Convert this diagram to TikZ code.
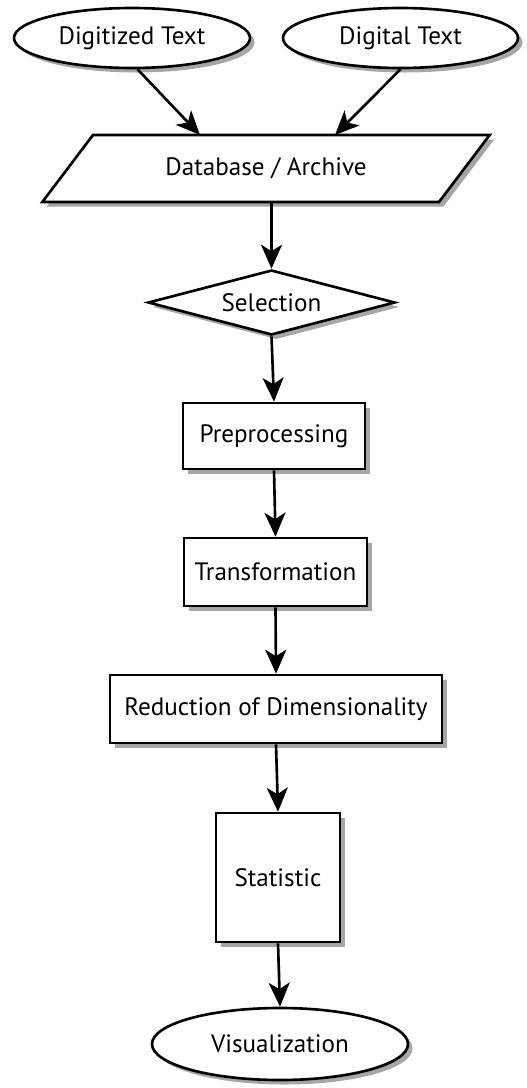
\documentclass[tikz,border=0pt]{standalone}
\usepackage{fontspec}
\setmainfont{PT Sans}
\usetikzlibrary{shapes.geometric, arrows.meta, shadows}

\begin{document}
\begin{tikzpicture}[
        font=\fontsize{14.3}{17}\selectfont,
        base/.style={draw, line width=1.5pt, fill=white, inner sep=0pt,
            drop shadow={shadow xshift=0.09cm, shadow yshift=-0.09cm, fill=black, opacity=0.35}},
        src/.style={base, ellipse},
        store/.style={base, trapezium, trapezium left angle=36, trapezium right angle=144, trapezium stretches=true},
        choice/.style={base, diamond, aspect=3.8},
        stepbox/.style={base, rectangle},
        arr/.style={line width=1.5pt, -{Stealth[length=4.8mm, width=4.2mm, inset=1.3mm]}}
    ]

    \useasboundingbox (0,0) rectangle (10.54,-21.76);

    % sources
    \node[src, minimum width=4.72cm, minimum height=1.2cm] (dgt) at (2.64,-0.76) {Digitized Text};
    \node[src, minimum width=4.7cm, minimum height=1.2cm] (dig) at (8.01,-0.76) {Digital Text};

    % archive
    \node[store, minimum width=8.96cm, minimum height=1.34cm] (db) at (5.32,-3.37) {Database / Archive};
    \coordinate (in1) at (4.0,-2.7);
    \coordinate (in2) at (6.7,-2.7);

    % pipeline
    \node[choice, minimum width=4.94cm, minimum height=1.3cm] (sel) at (5.43,-6.05) {Selection};
    \node[stepbox, minimum width=3.64cm, minimum height=1.32cm] (pre) at (5.48,-8.72) {Preprocessing};
    \node[stepbox, minimum width=3.66cm, minimum height=1.36cm] (trf) at (5.51,-11.44) {Transformation};
    \node[stepbox, minimum width=6.64cm, minimum height=1.36cm] (red) at (5.52,-14.18) {Reduction of Dimensionality};
    \node[stepbox, minimum width=2.48cm, minimum height=2.58cm] (sta) at (5.56,-17.55) {Statistic};
    \node[src, minimum width=5.12cm, minimum height=1.44cm] (vis) at (5.6,-20.88) {Visualization};

    % arrows
    \draw[arr] (dgt.-80) -- (in1);
    \draw[arr] (dig.south) -- (in2);
    \draw[arr] (sel.north |- db.south) -- (sel.north);
    \draw[arr] (sel.south) -- (pre.north);
    \draw[arr] (pre.south) -- (trf.north);
    \draw[arr] (trf.south) -- (red.north);
    \draw[arr] (red.south) -- (sta.north);
    \draw[arr] (sta.south) -- (vis.north);

\end{tikzpicture}
\end{document}
